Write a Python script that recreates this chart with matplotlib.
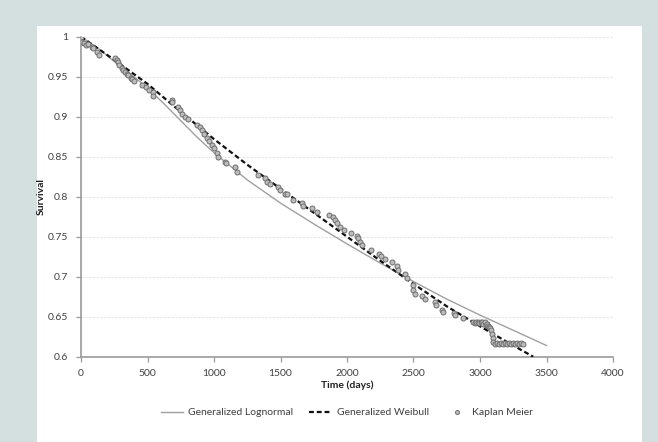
import matplotlib
matplotlib.use("Agg")
import matplotlib.pyplot as plt
from matplotlib.patches import Rectangle

plt.rcParams['font.family'] = ['Lato', 'DejaVu Sans']

# fitted curves
logn_t = [0, 125, 250, 375, 500, 625, 750, 875, 1000, 1250, 1500, 1750, 2000, 2250, 2500, 2750, 3000, 3250, 3500]
logn_s = [1.0, 0.986, 0.969, 0.953, 0.936, 0.916, 0.895, 0.874, 0.855, 0.821, 0.792, 0.766, 0.741, 0.717, 0.694, 0.672, 0.652, 0.633, 0.614]

weib_t = [0, 250, 500, 750, 1000, 1250, 1500, 1750, 2000, 2250, 2500, 2750, 3000, 3250, 3400]
weib_s = [1.0, 0.971, 0.941, 0.906, 0.872, 0.840, 0.810, 0.780, 0.750, 0.720, 0.691, 0.663, 0.638, 0.614, 0.600]

# Kaplan Meier estimates
km_t = [0, 8, 20, 40, 55, 80, 92, 117, 137,
        256, 268, 280, 288, 306, 318, 331, 344, 356, 374, 386, 399,
        456, 489, 514, 539, 544,
        682, 684, 732, 745, 757, 782, 802,
        870, 895, 907, 925, 945, 965, 983, 1000, 1020, 1032, 1083, 1090, 1158, 1170,
        1333, 1383, 1396, 1421, 1484, 1496, 1534, 1546, 1596, 1659, 1671, 1734, 1771,
        1867, 1897, 1910, 1927, 1947, 1977, 2028, 2073, 2086, 2098, 2111, 2181, 2241, 2256, 2286, 2336,
        2373, 2386, 2436, 2448,
        2498, 2500, 2511, 2561, 2586, 2662, 2669, 2712, 2719, 2805, 2812, 2874,
        2948, 2960, 2972, 2984, 2996, 3005, 3015, 3025, 3035, 3045, 3055, 3062, 3070, 3078, 3085, 3090, 3095, 3100,
        3110, 3125, 3140, 3155, 3170, 3185, 3200, 3215, 3230, 3245, 3260, 3275, 3290, 3305, 3323]
km_s = [1.0, 0.994, 0.992, 0.990, 0.991, 0.9875, 0.9855, 0.981, 0.977,
        0.973, 0.971, 0.969, 0.965, 0.9605, 0.958, 0.956, 0.954, 0.952, 0.949, 0.947, 0.945,
        0.940, 0.9375, 0.934, 0.931, 0.926,
        0.921, 0.918, 0.9125, 0.908, 0.904, 0.900, 0.897,
        0.890, 0.8875, 0.883, 0.879, 0.874, 0.870, 0.8646, 0.8605, 0.855, 0.850, 0.844, 0.842, 0.8375, 0.831,
        0.827, 0.823, 0.819, 0.8155, 0.8125, 0.808, 0.804, 0.803, 0.796, 0.792, 0.789, 0.7855, 0.781,
        0.777, 0.775, 0.771, 0.767, 0.7625, 0.759, 0.755, 0.751, 0.748, 0.744, 0.740, 0.733, 0.729, 0.726, 0.722, 0.7184,
        0.713, 0.708, 0.703, 0.699,
        0.6896, 0.6834, 0.679, 0.676, 0.672, 0.669, 0.665, 0.659, 0.656, 0.655, 0.652, 0.648,
        0.643, 0.642, 0.644, 0.643, 0.642, 0.644, 0.643, 0.641, 0.643, 0.640, 0.641, 0.639, 0.637, 0.636, 0.633, 0.629, 0.624, 0.619,
        0.616, 0.617, 0.616, 0.617, 0.616, 0.617, 0.616, 0.617, 0.616, 0.617, 0.616, 0.617, 0.616, 0.617, 0.616]

x_ticks = [0, 500, 1000, 1500, 2000, 2500, 3000, 3500, 4000]
y_ticks = [0.6, 0.65, 0.7, 0.75, 0.8, 0.85, 0.9, 0.95, 1.0]
y_labels = ['0.6', '0.65', '0.7', '0.75', '0.8', '0.85', '0.9', '0.95', '1']

fig = plt.figure(figsize=(6.58, 4.42), dpi=100)
fig.patch.set_facecolor('#d3e0df')
panel = Rectangle((37/658, 0), 605/658, 416/442, transform=fig.transFigure,
                  facecolor='white', edgecolor='none', zorder=-10)
fig.add_artist(panel)

ax = fig.add_axes([81/658, 1 - 356.7/442, 532/658, 320/442])
ax.set_facecolor('none')

for y in y_ticks[1:]:
    ax.axhline(y, color='#e8e8e8', lw=0.9, ls=(0, (2, 1)), zorder=0)

ax.plot(logn_t, logn_s, color='#a0a0a0', lw=1.0, label='Generalized Lognormal', zorder=2)
ax.plot(weib_t, weib_s, color='#111111', lw=1.6, ls=(0, (2.2, 1.3)), label='Generalized Weibull', zorder=3)
ax.plot(km_t, km_s, ls='none', marker='o', ms=3.6, mfc='#bdbdbd', mec='#6e6e6e', mew=0.7,
        label='Kaplan Meier', zorder=4)

ax.set_xlim(0, 4000)
ax.set_ylim(0.6, 1.0)
ax.set_xticks(x_ticks)
ax.set_yticks(y_ticks)
ax.set_yticklabels(y_labels)
ax.tick_params(axis='both', direction='out', length=3.5, width=0.9, color='#9a9a9a',
               labelsize=7.5, labelcolor='#404040')
ax.tick_params(axis='x', pad=5)
ax.tick_params(axis='y', pad=6)

for s in ['top', 'right']:
    ax.spines[s].set_visible(False)
for s in ['left', 'bottom']:
    ax.spines[s].set_color('#9a9a9a')
    ax.spines[s].set_linewidth(1.2)

ax.set_xlabel('Time (days)', fontsize=7.5, fontweight='bold', color='#202020', labelpad=2)
ax.set_ylabel('Survival', fontsize=7.5, fontweight='bold', color='#202020', labelpad=1)

leg = ax.legend(loc='center', bbox_to_anchor=(0.5, -0.175), ncol=3, frameon=False,
                fontsize=7.5, handlelength=2.2, handletextpad=0.4, columnspacing=1.6, markerscale=0.8)
for t in leg.get_texts():
    t.set_color('#404040')

fig.savefig('out.png', dpi=100, facecolor=fig.get_facecolor())
